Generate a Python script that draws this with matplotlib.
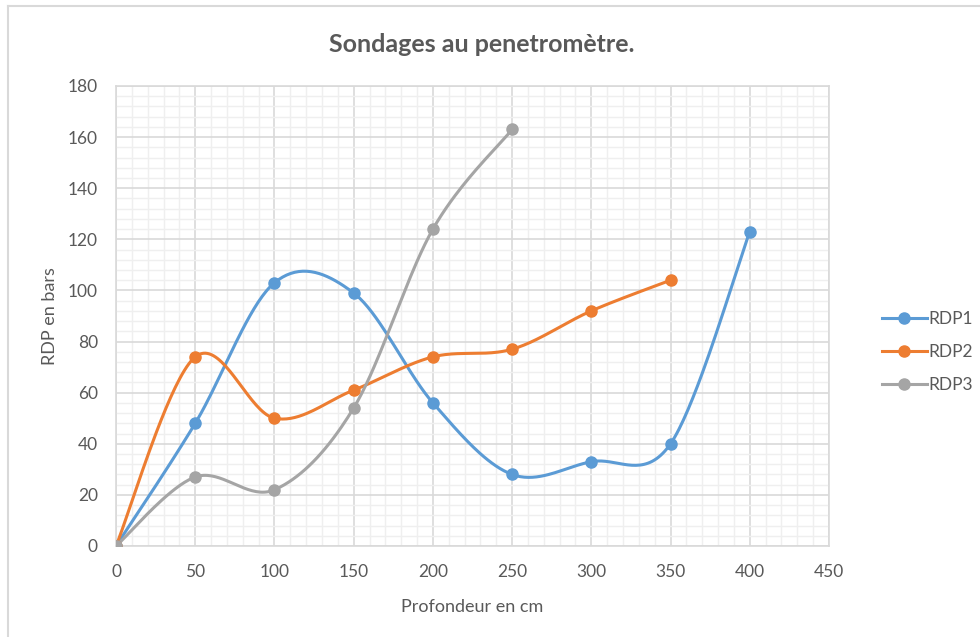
import numpy as np
import matplotlib
matplotlib.use("Agg")
import matplotlib.pyplot as plt
from matplotlib.lines import Line2D

# data
x1 = [0, 50, 100, 150, 200, 250, 300, 350, 400]
rdp1 = [0, 48, 103, 99, 56, 28, 33, 40, 123]
x2 = [0, 50, 100, 150, 200, 250, 300, 350]
rdp2 = [0, 74, 50, 61, 74, 77, 92, 104]
x3 = [0, 50, 100, 150, 200, 250]
rdp3 = [0, 27, 22, 54, 124, 163]
names = ['RDP1', 'RDP2', 'RDP3']
colors = ['#5b9bd5', '#ed7d31', '#a5a5a5']

grey = '#595959'
plt.rcParams['font.family'] = ['Lato', 'DejaVu Sans']


def smooth(x, y, n=40):
    # excel-like smoothed line: catmull-rom segments as cubic beziers
    x = np.asarray(x, float)
    y = np.asarray(y, float)
    px, py = [], []
    for i in range(len(x) - 1):
        i0 = max(i - 1, 0)
        i3 = min(i + 2, len(x) - 1)
        c1x = x[i] + (x[i + 1] - x[i0]) / 6
        c1y = y[i] + (y[i + 1] - y[i0]) / 6
        c2x = x[i + 1] - (x[i3] - x[i]) / 6
        c2y = y[i + 1] - (y[i3] - y[i]) / 6
        t = np.linspace(0, 1, n)
        b0 = (1 - t) ** 3
        b1 = 3 * (1 - t) ** 2 * t
        b2 = 3 * (1 - t) * t ** 2
        b3 = t ** 3
        px.extend(b0 * x[i] + b1 * c1x + b2 * c2x + b3 * x[i + 1])
        py.extend(b0 * y[i] + b1 * c1y + b2 * c2y + b3 * y[i + 1])
    return px, py


fig = plt.figure(figsize=(9.8, 6.37), dpi=100)
# outer chart frame
fig.add_artist(Line2D([8 / 980, 8 / 980], [0, 1 - 6 / 637], color='#d9d9d9', lw=1.5))
fig.add_artist(Line2D([8 / 980, 1], [1 - 6 / 637, 1 - 6 / 637], color='#d9d9d9', lw=1.5))

ax = fig.add_axes([116 / 980, 1 - 546 / 637, (829 - 116) / 980, (546 - 86) / 637])

for xs, ys, lab, c in zip([x1, x2, x3], [rdp1, rdp2, rdp3], names, colors):
    sx, sy = smooth(xs, ys)
    ax.plot(sx, sy, color=c, lw=2.2, zorder=3)
    ax.plot(xs, ys, ls='None', marker='o', ms=8, color=c, zorder=4)

ax.set_xlim(0, 450)
ax.set_ylim(0, 180)
ax.set_xticks(np.arange(0, 451, 50))
ax.set_yticks(np.arange(0, 181, 20))
ax.set_xticks(np.arange(0, 451, 10), minor=True)
ax.set_yticks(np.arange(0, 181, 4), minor=True)
ax.grid(which='major', color='#d9d9d9', lw=1.2)
ax.grid(which='minor', color='#efefef', lw=1.0)
ax.set_axisbelow(True)
ax.tick_params(which='both', length=0, colors=grey, labelsize=12.5)
ax.tick_params(axis='x', pad=13)
ax.tick_params(axis='y', pad=13)
for s in ax.spines.values():
    s.set_color('#d9d9d9')
    s.set_linewidth(1.2)

ax.set_xlabel('Profondeur en cm', fontsize=13, color=grey, labelpad=14)
ax.set_ylabel('RDP en bars', fontsize=13, color=grey, labelpad=7)
fig.text(482 / 980, 1 - 45 / 637, 'Sondages au penetromètre.', ha='center', va='center',
         fontsize=18, fontweight='bold', color=grey)

handles = [Line2D([], [], color=c, lw=2.2, marker='o', ms=8) for c in colors]
fig.legend(handles, names, loc='center left', bbox_to_anchor=(866 / 980, 1 - 352 / 637),
           frameon=False, fontsize=12.5, labelcolor=grey, handlelength=2.6,
           handletextpad=0.1, labelspacing=1.0)

plt.savefig('out.png', dpi=100)
